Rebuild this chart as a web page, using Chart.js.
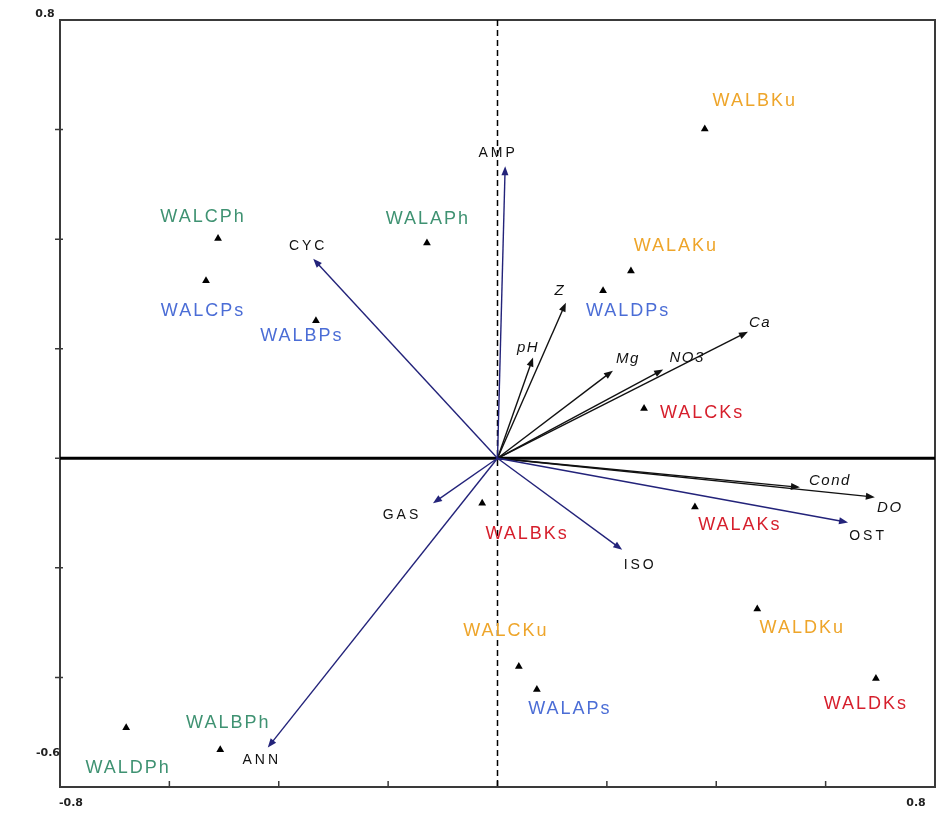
<!DOCTYPE html>
<html>
<head>
<meta charset="utf-8">
<script src="https://cdn.jsdelivr.net/npm/chart.js@4.4.0/dist/chart.umd.min.js"></script>
<style>
  body { margin: 0; background: #fff; }
</style>
</head>
<body>
<canvas id="biplot" width="949" height="823"></canvas>
<script>
// sampling sites (triangles)
var siteNames = ["WALBKu", "WALAKu", "WALDPs", "WALCKs", "WALAKs", "WALBKs", "WALCKu", "WALAPs",
                 "WALDKu", "WALDKs", "WALDPh", "WALBPh", "WALCPh", "WALCPs", "WALBPs", "WALAPh"];
var siteX = [0.379, 0.244, 0.193, 0.268, 0.361, -0.028, 0.039, 0.072,
             0.475, 0.692, -0.679, -0.507, -0.511, -0.533, -0.332, -0.129];
var siteY = [0.601, 0.342, 0.306, 0.091, -0.089, -0.082, -0.380, -0.422,
             -0.275, -0.402, -0.492, -0.532, 0.401, 0.324, 0.251, 0.393];

// taxa arrows
var taxaNames = ["AMP", "CYC", "GAS", "ISO", "OST", "ANN"];
var taxaX = [0.014, -0.337, -0.118, 0.228, 0.641, -0.420];
var taxaY = [0.533, 0.364, -0.082, -0.167, -0.117, -0.528];

// environmental variable arrows
var envNames = ["Z", "pH", "Mg", "NO3", "Ca", "Cond", "DO"];
var envX = [0.125, 0.065, 0.211, 0.303, 0.458, 0.553, 0.690];
var envY = [0.284, 0.184, 0.160, 0.162, 0.231, -0.053, -0.071];

// axis ticks
var xTicks = [-0.6, -0.4, -0.2, 0, 0.2, 0.4, 0.6];
var yTicks = [-0.4, -0.2, 0, 0.2, 0.4, 0.6];
var xEndLabels = ["-0.8", "0.8"];
var yEndLabels = ["0.8", "-0.6"];

// colour per site group (by name suffix)
var groupColors = { Ph: "#3f9272", Ps: "#4b6dd6", Ku: "#eea52a", Ks: "#d61f2c" };

// label nudges in pixels, relative to the mark
var labelShift = {
  WALBKu: [50, -28], WALAKu: [45, -25], WALDPs: [25, 20], WALCKs: [58, 5],
  WALAKs: [45, 18], WALBKs: [45, 31], WALCKu: [-13, -35], WALAPs: [33, 20],
  WALDKu: [45, 19], WALDKs: [-10, 26], WALDPh: [2, 40], WALBPh: [8, -27],
  WALCPh: [-15, -22], WALCPs: [-3, 30], WALBPs: [-14, 15], WALAPh: [1, -24],
  AMP: [-7, -13], CYC: [-5, -13], GAS: [-31, 12], ISO: [18, 15], OST: [20, 14], ANN: [-6, 13],
  Z: [-6, -12], pH: [-5, -10], Mg: [15, -12], NO3: [24, -12], Ca: [12, -9], Cond: [30, -6], DO: [15, 11]
};

var sitePoints = siteNames.map(function (n, i) { return { x: siteX[i], y: siteY[i] }; });

function drawArrow(ctx, x0, y0, x1, y1, color, width) {
  var a = Math.atan2(y1 - y0, x1 - x0);
  var c = Math.cos(a), s = Math.sin(a);
  ctx.strokeStyle = color;
  ctx.fillStyle = color;
  ctx.lineWidth = width;
  ctx.beginPath();
  ctx.moveTo(x0, y0);
  ctx.lineTo(x1 - 5 * c, y1 - 5 * s);
  ctx.stroke();
  ctx.beginPath();
  ctx.moveTo(x1, y1);
  ctx.lineTo(x1 - 9 * c + 3.5 * s, y1 - 9 * s - 3.5 * c);
  ctx.lineTo(x1 - 9 * c - 3.5 * s, y1 - 9 * s + 3.5 * c);
  ctx.closePath();
  ctx.fill();
}

function drawLabel(ctx, text, x, y, font, color, spacing) {
  ctx.font = font;
  ctx.fillStyle = color;
  ctx.letterSpacing = spacing;
  ctx.textAlign = "center";
  ctx.textBaseline = "middle";
  ctx.fillText(text, x, y);
}

var biplotLayer = {
  id: "biplotLayer",
  beforeDatasetsDraw: function (chart) {
    var ctx = chart.ctx, area = chart.chartArea;
    var xs = chart.scales.x, ys = chart.scales.y;
    var ox = xs.getPixelForValue(0), oy = ys.getPixelForValue(0);
    ctx.save();

    // frame
    ctx.strokeStyle = "#3a3a3a";
    ctx.lineWidth = 2;
    ctx.strokeRect(area.left, area.top, area.right - area.left, area.bottom - area.top);

    // ticks
    ctx.lineWidth = 1.5;
    ctx.beginPath();
    yTicks.forEach(function (v) {
      var py = ys.getPixelForValue(v);
      ctx.moveTo(area.left - 5, py);
      ctx.lineTo(area.left + 3, py);
    });
    xTicks.forEach(function (v) {
      var px = xs.getPixelForValue(v);
      ctx.moveTo(px, area.bottom);
      ctx.lineTo(px, area.bottom - 6);
    });
    ctx.stroke();

    // zero lines
    ctx.strokeStyle = "#000";
    ctx.lineWidth = 3;
    ctx.beginPath();
    ctx.moveTo(area.left, oy);
    ctx.lineTo(area.right, oy);
    ctx.stroke();
    ctx.lineWidth = 1.5;
    ctx.setLineDash([6, 4]);
    ctx.beginPath();
    ctx.moveTo(ox, area.top);
    ctx.lineTo(ox, area.bottom);
    ctx.stroke();
    ctx.setLineDash([]);

    // arrows
    envNames.forEach(function (n, i) {
      drawArrow(ctx, ox, oy, xs.getPixelForValue(envX[i]), ys.getPixelForValue(envY[i]), "#111", 1.4);
    });
    taxaNames.forEach(function (n, i) {
      drawArrow(ctx, ox, oy, xs.getPixelForValue(taxaX[i]), ys.getPixelForValue(taxaY[i]), "#23237a", 1.4);
    });

    // end labels of the axes
    var tickFont = "bold 11px 'DejaVu Sans'";
    drawLabel(ctx, yEndLabels[0], area.left - 15, area.top - 6, tickFont, "#222", "0px");
    drawLabel(ctx, yEndLabels[1], area.left - 12, area.bottom - 34, tickFont, "#222", "0px");
    drawLabel(ctx, xEndLabels[0], area.left + 11, area.bottom + 16, tickFont, "#222", "0px");
    drawLabel(ctx, xEndLabels[1], area.right - 19, area.bottom + 16, tickFont, "#222", "0px");
    ctx.restore();
  },
  afterDatasetsDraw: function (chart) {
    var ctx = chart.ctx;
    var xs = chart.scales.x, ys = chart.scales.y;
    ctx.save();
    siteNames.forEach(function (n, i) {
      var d = labelShift[n];
      drawLabel(ctx, n, xs.getPixelForValue(siteX[i]) + d[0], ys.getPixelForValue(siteY[i]) + d[1],
        "18px 'Liberation Sans'", groupColors[n.slice(-2)], "2px");
    });
    taxaNames.forEach(function (n, i) {
      var d = labelShift[n];
      drawLabel(ctx, n, xs.getPixelForValue(taxaX[i]) + d[0], ys.getPixelForValue(taxaY[i]) + d[1],
        "14px 'Liberation Sans'", "#111", "3px");
    });
    envNames.forEach(function (n, i) {
      var d = labelShift[n];
      drawLabel(ctx, n, xs.getPixelForValue(envX[i]) + d[0], ys.getPixelForValue(envY[i]) + d[1],
        "italic 15px 'Liberation Sans'", "#111", "1.5px");
    });
    ctx.restore();
  }
};

new Chart("biplot", {
  type: "scatter",
  data: {
    datasets: [{
      data: sitePoints,
      pointStyle: "triangle",
      pointRadius: 4.5,
      backgroundColor: "#000",
      borderColor: "#000",
      borderWidth: 0
    }]
  },
  options: {
    responsive: false,
    animation: false,
    layout: { padding: { left: 60, top: 20, right: 14, bottom: 36 } },
    plugins: { legend: { display: false }, tooltip: { enabled: false } },
    scales: {
      x: { type: "linear", min: -0.8, max: 0.8, display: false },
      y: { type: "linear", min: -0.6, max: 0.8, display: false }
    }
  },
  plugins: [biplotLayer]
});
</script>
</body>
</html>
